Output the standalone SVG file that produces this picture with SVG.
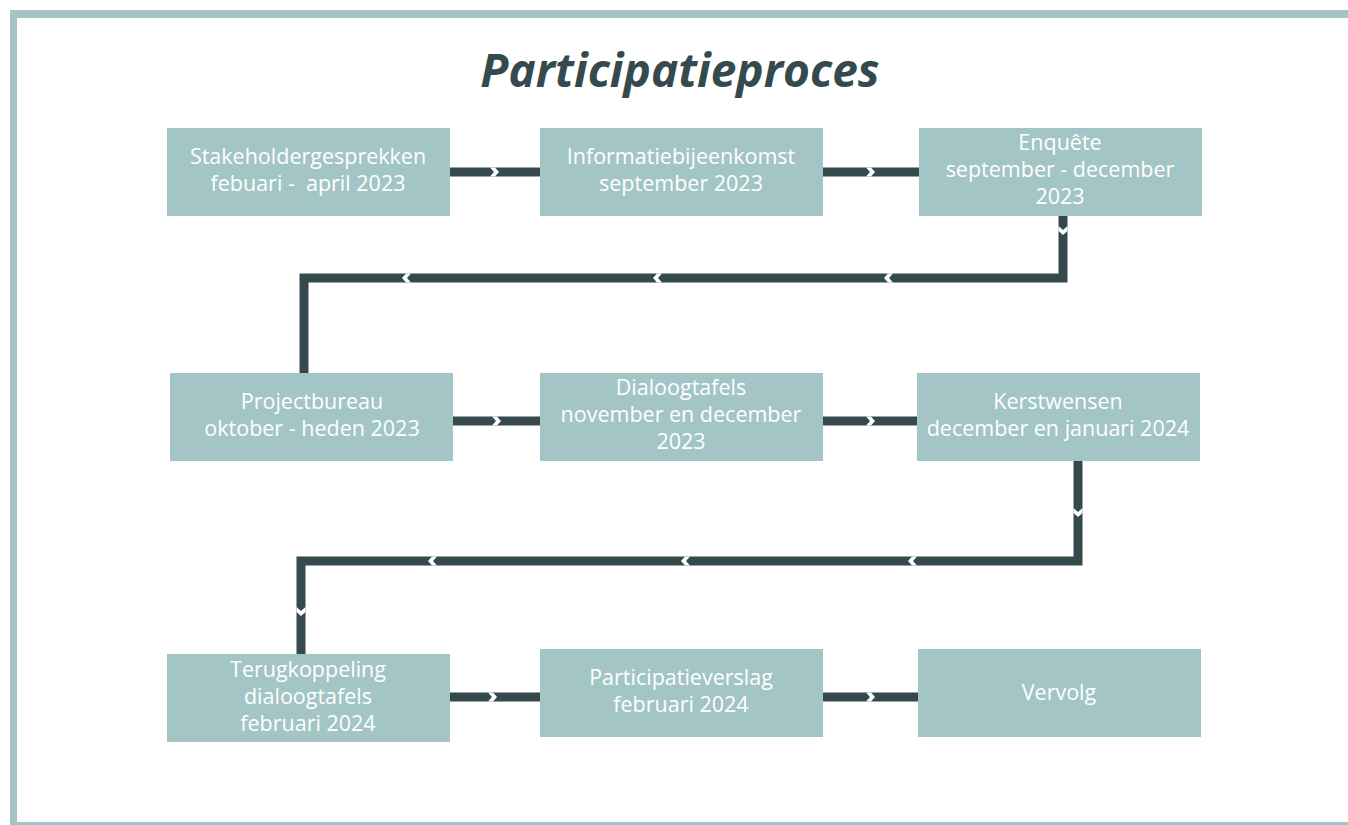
<svg xmlns="http://www.w3.org/2000/svg" width="1348" height="825" viewBox="0 0 1348 825">
<style>
.box{fill:#a3c5c5}
.t{font-family:"Open Sans",Lato,sans-serif;font-size:21.5px;fill:#ffffff;text-anchor:middle}
.ln{fill:none;stroke:#344a4c;stroke-width:9;stroke-linejoin:miter}
.ch{fill:#ffffff}
.title{font-family:"Open Sans",Lato,sans-serif;font-weight:bold;font-style:italic;font-size:46px;fill:#344a4c;text-anchor:middle}
</style>
<defs>
<polygon id="cr" points="-5,-4.5 0,-4.5 4,0 0,4.5 -5,4.5 -1,0" class="ch"/>
</defs>
<rect x="0" y="0" width="1348" height="825" fill="#ffffff"/>
<g id="frame">
<rect x="10" y="10" width="1338" height="8" fill="#a3c5c5"/>
<rect x="10" y="10" width="7" height="815" fill="#a3c5c5"/>
<rect x="10" y="822" width="1338" height="3" fill="#a3c5c5"/>
</g>
<text class="title" x="680" y="87">Participatieproces</text>
<g id="connectors">
<path class="ln" d="M450 172H540"/>
<path class="ln" d="M823 172H919"/>
<path class="ln" d="M1063 216V278H304V373"/>
<path class="ln" d="M453 421H540"/>
<path class="ln" d="M823 421H917"/>
<path class="ln" d="M1078 461V561H301V654"/>
<path class="ln" d="M450 697H540"/>
<path class="ln" d="M823 697H918"/>
<use href="#cr" transform="translate(495,172)"/>
<use href="#cr" transform="translate(871,172)"/>
<use href="#cr" transform="translate(1063,231) rotate(90)"/>
<use href="#cr" transform="translate(888,278) rotate(180)"/>
<use href="#cr" transform="translate(657,278) rotate(180)"/>
<use href="#cr" transform="translate(406,278) rotate(180)"/>
<use href="#cr" transform="translate(497,421)"/>
<use href="#cr" transform="translate(871,421)"/>
<use href="#cr" transform="translate(1078,513) rotate(90)"/>
<use href="#cr" transform="translate(912,561) rotate(180)"/>
<use href="#cr" transform="translate(685,561) rotate(180)"/>
<use href="#cr" transform="translate(432,561) rotate(180)"/>
<use href="#cr" transform="translate(301,612) rotate(90)"/>
<use href="#cr" transform="translate(493,697)"/>
<use href="#cr" transform="translate(871,697)"/>
</g>
<g id="n1"><rect class="box" x="167" y="128" width="283" height="88"/>
<text class="t" x="308" y="164">Stakeholdergesprekken</text>
<text class="t" x="308" y="191" xml:space="preserve">febuari -  april 2023</text></g>
<g id="n2"><rect class="box" x="540" y="128" width="283" height="88"/>
<text class="t" x="681" y="164">Informatiebijeenkomst</text>
<text class="t" x="681" y="191">september 2023</text></g>
<g id="n3"><rect class="box" x="919" y="128" width="283" height="88"/>
<text class="t" x="1060" y="150">Enquête</text>
<text class="t" x="1060" y="177">september - december</text>
<text class="t" x="1060" y="204">2023</text></g>
<g id="n4"><rect class="box" x="170" y="373" width="283" height="88"/>
<text class="t" x="312" y="409">Projectbureau</text>
<text class="t" x="312" y="436">oktober - heden 2023</text></g>
<g id="n5"><rect class="box" x="540" y="373" width="283" height="88"/>
<text class="t" x="681" y="395">Dialoogtafels</text>
<text class="t" x="681" y="422">november en december</text>
<text class="t" x="681" y="449">2023</text></g>
<g id="n6"><rect class="box" x="917" y="373" width="283" height="88"/>
<text class="t" x="1058" y="409">Kerstwensen</text>
<text class="t" x="1058" y="436">december en januari 2024</text></g>
<g id="n7"><rect class="box" x="167" y="654" width="283" height="88"/>
<text class="t" x="308" y="677">Terugkoppeling</text>
<text class="t" x="308" y="704">dialoogtafels</text>
<text class="t" x="308" y="731">februari 2024</text></g>
<g id="n8"><rect class="box" x="540" y="649" width="283" height="88"/>
<text class="t" x="681" y="685">Participatieverslag</text>
<text class="t" x="681" y="712">februari 2024</text></g>
<g id="n9"><rect class="box" x="918" y="649" width="283" height="88"/>
<text class="t" x="1059" y="700">Vervolg</text></g>
</svg>
